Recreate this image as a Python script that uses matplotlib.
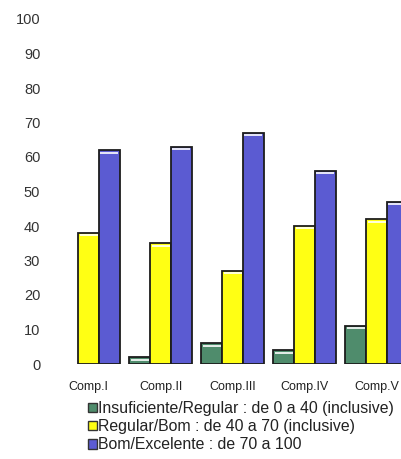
import matplotlib
matplotlib.use("Agg")
import matplotlib.pyplot as plt
from matplotlib.patches import Patch
import numpy as np

categories = ["Comp.I", "Comp.II", "Comp.III", "Comp.IV", "Comp.V"]
insuf = [0, 2, 6, 4, 11]
regular = [38, 35, 27, 40, 42]
bom = [62, 63, 67, 56, 47]
series_labels = ["Insuficiente/Regular : de 0 a 40 (inclusive)",
                 "Regular/Bom : de 40 a 70 (inclusive)",
                 "Bom/Excelente : de 70 a 100"]
yticks = [0, 10, 20, 30, 40, 50, 60, 70, 80, 90, 100]

colors = ["#4f8c6c", "#ffff14", "#5b5bd2"]

plt.rcParams['font.family'] = ['Liberation Sans', 'DejaVu Sans']

fig = plt.figure(figsize=(4.02, 4.59), dpi=100)
ax = fig.add_axes([50/402, (459-364)/459, (402-50)/402, (364-19)/459])

x = np.arange(len(categories))
w = 0.29
for i, (vals, c, lab) in enumerate(zip([insuf, regular, bom], colors, series_labels)):
    pos = x + (i - 1) * w
    lws = [1.3 if v > 0 else 0 for v in vals]
    ax.bar(pos, vals, width=w, color=c, edgecolor="#1c1c1c", linewidth=lws,
           label=lab, zorder=2)
    # white highlight line just under each bar top
    for p, v in zip(pos, vals):
        if v > 1.2:
            ax.hlines(v - 0.7, p - w/2 + 0.02, p + w/2 - 0.02, colors="white",
                      linewidth=1.2, zorder=3)

ax.set_xlim(-0.535, 4.354)
ax.set_ylim(0, 100)
ax.set_yticks(yticks)
ax.set_yticklabels([str(t) for t in yticks], fontsize=10.5, color="#333333")
ax.set_xticks(x)
ax.set_xticklabels(categories, fontsize=9, color="#222222",
                   family=['Liberation Sans Narrow', 'Liberation Sans', 'DejaVu Sans'])
ax.tick_params(axis='y', length=0, pad=7)
ax.tick_params(axis='x', length=0, pad=12)
for s in ax.spines.values():
    s.set_visible(False)

handles = [Patch(facecolor=c, edgecolor="#333333", linewidth=1.0) for c in colors]
leg = fig.legend(handles=handles, labels=series_labels, loc="upper left",
                 bbox_to_anchor=(88/402, 1 - 401/459), frameon=False,
                 fontsize=11.4, handlelength=0.55, handleheight=0.55,
                 handletextpad=0.1, labelspacing=0.2, borderpad=0,
                 borderaxespad=0, labelcolor="#222222")

fig.savefig("out.png", dpi=100)
